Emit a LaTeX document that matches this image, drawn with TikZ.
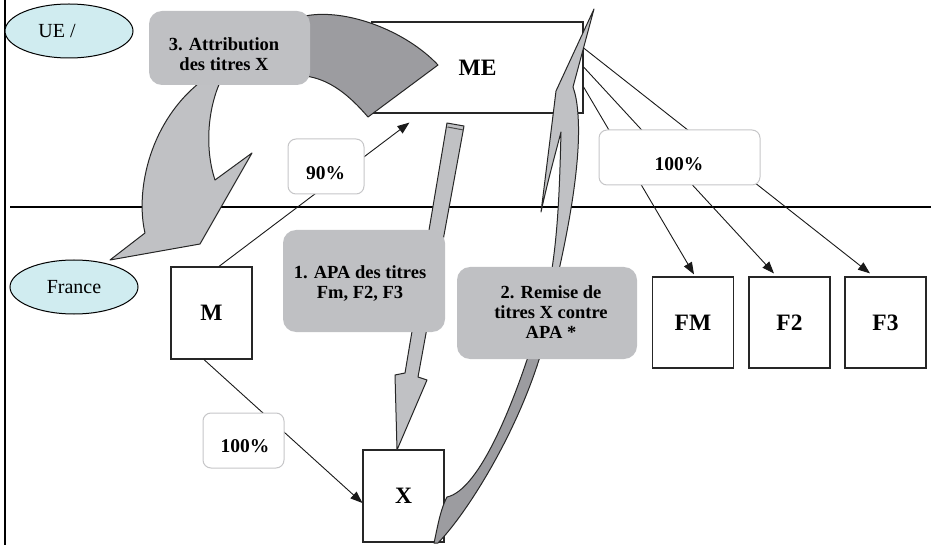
\documentclass[tikz,border=0pt]{standalone}
\usepackage{fontspec}
\setmainfont{Liberation Serif}
\usetikzlibrary{arrows.meta,calc,shapes.geometric}

\definecolor{skyfill}{HTML}{D0ECF0}
\definecolor{ribbonlight}{HTML}{C0C1C4}
\definecolor{ribbondark}{HTML}{9C9CA0}
\definecolor{stepgray}{HTML}{BFC0C3}
\definecolor{pctedge}{HTML}{C6C6C8}

\begin{document}
\begin{tikzpicture}[x=1pt,y=-1pt,
  entity/.style={draw=black!85,fill=white,line width=1.2pt,minimum width=81pt,
    minimum height=92pt,inner sep=0pt,font=\fontsize{23.5}{26}\selectfont\bfseries},
  region/.style={ellipse,draw=black,fill=skyfill,line width=1pt,minimum width=128pt,
    minimum height=54pt,inner sep=0pt,font=\fontsize{20}{22}\selectfont},
  stepbox/.style={fill=stepgray,rounded corners=13pt,inner sep=0pt},
  steptext/.style={align=center,inner sep=0pt,font=\fontsize{18.5}{20}\selectfont\bfseries},
  pctbox/.style={draw=pctedge,fill=white,rounded corners=8pt,line width=1pt,inner sep=0pt},
  pcttext/.style={inner sep=0pt,font=\fontsize{19.5}{21}\selectfont\bfseries},
  flow/.style={draw=black!90,line width=0.9pt,-{Triangle[length=12pt,width=9pt]}},
  ribbon/.style={draw=black!85,line width=1pt,line join=round},
]
\useasboundingbox (0,0) rectangle (931,545);

% frame and the UE / France separator
\draw[line width=1.3pt] (5,0) -- (5,545);
\draw[line width=1.5pt] (10,207) -- (931,207);

% levels
\node[region] (ue) at (69,31) {UE /\hspace*{24pt}};
\node[region] (fr) at (74,287) {France};

% entities
\node[entity,minimum width=211pt,minimum height=91pt] (ME) at (477.5,67.5) {ME};
\node[entity] (M) at (211.5,313) {M};
\node[entity] (X) at (403.5,496) {X};
\node[entity,minimum height=91pt] (FM) at (693,322.5) {FM};
\node[entity,minimum height=91pt] (F2) at (789.5,322.5) {F2};
\node[entity,minimum height=91pt] (F3) at (885.5,322.5) {F3};

% step 3: curved ribbon from ME back down to France
\path[ribbon,fill=ribbondark] (305,16) .. controls (345,8) and (405,30) .. (438,65)
  -- (368,117) .. controls (350,96) and (330,79) .. (305,76) -- cycle;
\path[ribbon,fill=ribbonlight] (203,80) .. controls (150,120) and (135,190) .. (145,233)
  -- (110,260) -- (200,244) -- (252,153) -- (215,180)
  .. controls (205,150) and (207,110) .. (221,80) -- cycle;
\node[stepbox,minimum width=161pt,minimum height=74pt] (s3) at (229.5,48) {};
\node[steptext] (s3t) at (224,54) {3. Attribution\\ des titres X};

% step 1: straight arrow from ME down to X
\path[ribbon,fill=ribbonlight] (447,123) -- (464,126) -- (418,377) -- (427,380)
  -- (397,450) -- (395,375) -- (405,373) -- cycle;
\draw[black!70,line width=1pt] (447.5,127) -- (463.5,130);
\node[stepbox,minimum width=162pt,minimum height=102pt] (s1) at (364,281) {};
\node[steptext] (s1t) at (360,284) {1. APA des titres\\ Fm, F2, F3};

% step 2: thin twisted ribbon from X up to ME
\path[ribbon,fill=ribbonlight] (594,9) -- (556,91)
  .. controls (550,140) and (545,180) .. (541,212)
  .. controls (548,180) and (555,155) .. (561,132)
  .. controls (559,210) and (557,270) .. (537,335) -- (543,335)
  .. controls (563,260) and (582,170) .. (578,115)
  .. controls (577,100) and (575,93) .. (573,87) -- cycle;
\path[ribbon,fill=ribbondark] (535,335) .. controls (515,400) and (480,490) .. (447,497)
  .. controls (440,510) and (437,530) .. (434,543) -- (438,543)
  .. controls (470,510) and (525,420) .. (546,335) -- cycle;
\node[stepbox,minimum width=180pt,minimum height=92pt] (s2) at (547,313) {};
\node[steptext] (s2t) at (551,312) {2. Remise de\\ titres X contre\\ APA *};

% holdings
\draw[flow] ($(M.north)+(7.5,0)$) -- ($(ME.south west)+(38,9)$);
\draw[flow] ($(M.south)+(-7.5,0)$) -- ($(X.west)+(0,7)$);
\draw[flow] ($(ME.east)+(0,19.5)$) -- ($(FM.north)+(1,-2)$);
\draw[flow] ($(ME.east)+(0,-0.5)$) -- ($(F2.north)+(-15.5,-3)$);
\draw[flow] ($(ME.east)+(0,-19.5)$) -- ($(F3.north)+(-15.5,-3)$);

\node[pctbox,minimum width=76pt,minimum height=55pt] (p90) at (326,166.5) {};
\node[pcttext] (p90t) at (325.5,173) {90\%};
\node[pctbox,minimum width=81pt,minimum height=55pt] (p100a) at (243.5,440.5) {};
\node[pcttext] (p100at) at (245,446.5) {100\%};
\node[pctbox,minimum width=161pt,minimum height=55pt] (p100b) at (679.5,157.5) {};
\node[pcttext] (p100bt) at (679,164) {100\%};
\end{tikzpicture}
\end{document}
